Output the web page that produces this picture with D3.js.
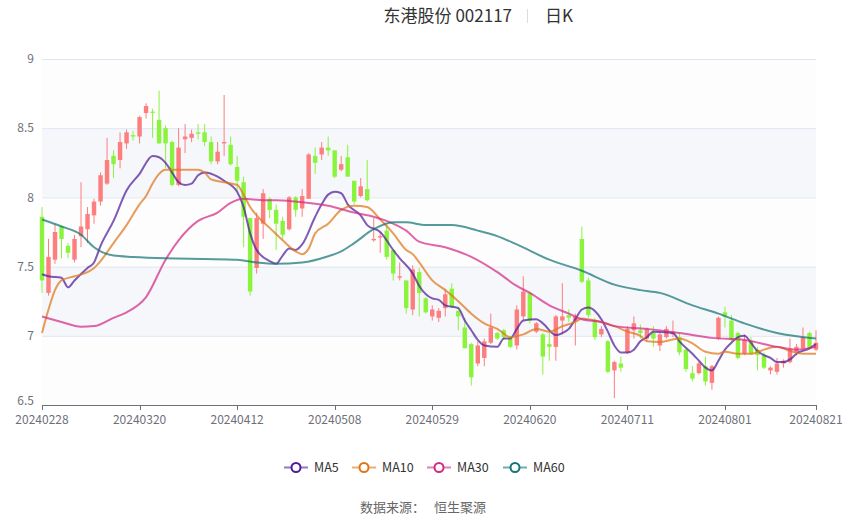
<!DOCTYPE html>
<html>
<head>
<meta charset="utf-8">
<script src="https://cdn.jsdelivr.net/npm/d3@7"></script>
<style>
  html, body { margin: 0; padding: 0; background: #fff; }
  svg text { font-family: "Noto Sans CJK SC", "Noto Sans", sans-serif; }
</style>
</head>
<body>
<svg id="chart" width="850" height="517"></svg>
<script>
const dates = ("20240228 20240229 " +
  "20240301 20240304 20240305 20240306 20240307 20240308 20240311 20240312 20240313 20240314 20240315 " +
  "20240318 20240319 20240320 20240321 20240322 20240325 20240326 20240327 20240328 20240329 " +
  "20240401 20240402 20240403 20240408 20240409 20240410 20240411 20240412 20240415 20240416 20240417 " +
  "20240418 20240419 20240422 20240423 20240424 20240425 20240426 20240429 20240430 " +
  "20240506 20240507 20240508 20240509 20240510 20240513 20240514 20240515 20240516 20240517 " +
  "20240520 20240521 20240522 20240523 20240524 20240527 20240528 20240529 20240530 20240531 " +
  "20240603 20240604 20240605 20240606 20240607 20240611 20240612 20240613 20240614 " +
  "20240617 20240618 20240619 20240620 20240621 20240624 20240625 20240626 20240627 20240628 " +
  "20240701 20240702 20240703 20240704 20240705 20240708 20240709 20240710 20240711 20240712 " +
  "20240715 20240716 20240717 20240718 20240719 20240722 20240723 20240724 20240725 20240726 " +
  "20240729 20240730 20240731 20240801 20240802 20240805 20240806 20240807 20240808 20240809 " +
  "20240812 20240813 20240814 20240815 20240816 20240819 20240820 20240821").split(" ");

const open = [7.86,7.31,7.55,7.79,7.65,7.55,7.72,7.77,7.87,7.97,8.10,8.30,8.27,8.39,8.45,8.44,8.61,8.62,8.56,8.50,
  8.40,8.09,8.42,8.43,8.47,8.47,8.40,8.26,8.39,8.38,8.22,8.11,7.85,7.49,7.81,7.99,7.91,7.83,7.77,8.00,
  7.92,7.99,8.30,8.31,8.36,8.34,8.20,8.29,8.12,8.01,8.06,7.69,7.71,7.76,7.62,7.42,7.40,7.19,7.46,7.27,
  7.14,7.13,7.20,7.34,7.18,7.06,6.94,6.80,6.84,6.95,7.02,7.04,6.98,6.93,7.14,7.31,7.03,7.01,6.94,6.92,
  7.11,7.15,7.11,7.70,7.40,7.11,7.01,6.96,6.75,6.80,6.88,7.04,7.04,6.98,7.02,6.93,6.99,7.01,6.99,6.90,
  6.73,6.73,6.78,6.66,6.98,7.17,7.11,7.02,6.87,6.96,6.90,6.86,6.75,6.74,6.80,6.81,6.88,6.91,7.02,6.90];
const close = [7.40,7.57,7.75,7.70,7.60,7.70,7.79,7.88,7.97,8.16,8.27,8.24,8.40,8.47,8.44,8.58,8.66,8.61,8.39,8.39,
  8.09,8.36,8.44,8.46,8.46,8.40,8.26,8.33,8.40,8.24,8.12,7.86,7.32,7.85,8.03,7.91,7.81,7.73,8.00,7.91,
  8.01,8.31,8.25,8.36,8.34,8.15,8.24,8.15,7.97,8.08,7.98,7.70,7.72,7.57,7.45,7.43,7.20,7.48,7.31,7.17,
  7.19,7.18,7.30,7.21,7.14,6.91,6.70,6.93,6.96,7.06,6.98,6.99,6.92,7.19,7.32,7.11,7.09,6.85,6.92,7.14,
  7.14,7.13,7.14,7.39,7.15,6.99,7.05,6.74,6.81,6.77,7.05,7.09,7.02,7.05,6.98,7.01,7.05,7.03,6.88,6.76,
  6.69,6.80,6.67,6.78,7.13,7.14,6.97,6.84,6.97,6.87,6.86,6.77,6.77,6.80,6.82,6.90,6.92,6.99,6.91,6.95];
const high = [7.93,7.70,7.81,7.80,7.67,7.73,8.11,7.93,7.99,8.18,8.43,8.34,8.47,8.49,8.48,8.59,8.68,8.64,8.77,8.52,
  8.41,8.50,8.53,8.49,8.53,8.53,8.44,8.40,8.74,8.44,8.30,8.15,7.85,7.89,8.06,8.00,7.95,7.86,8.01,8.01,
  8.06,8.32,8.36,8.40,8.44,8.34,8.30,8.38,8.12,8.14,8.27,7.85,7.75,7.80,7.62,7.53,7.40,7.51,7.49,7.28,
  7.22,7.20,7.34,7.38,7.21,7.13,6.95,6.96,6.98,7.16,7.03,7.05,7.00,7.22,7.43,7.32,7.10,7.02,7.04,7.15,
  7.38,7.19,7.16,7.79,7.42,7.13,7.07,6.97,6.82,6.85,7.07,7.14,7.08,7.06,7.07,7.02,7.07,7.11,7.02,6.91,
  6.78,6.81,6.85,6.79,7.14,7.21,7.15,7.03,7.01,6.99,6.92,6.88,6.78,6.84,6.83,6.98,6.94,7.06,7.03,7.04];
const low = [7.31,7.29,7.52,7.56,7.56,7.53,7.64,7.67,7.81,7.94,8.09,8.14,8.21,8.35,8.41,8.39,8.57,8.43,8.39,8.21,
  8.08,8.08,8.32,8.40,8.42,8.37,8.24,8.24,8.30,8.23,8.05,7.64,7.29,7.45,7.70,7.85,7.62,7.70,7.76,7.86,
  7.86,7.99,8.17,8.27,8.30,8.14,8.19,8.15,7.95,8.00,7.97,7.68,7.60,7.55,7.40,7.40,7.16,7.15,7.14,7.16,
  7.11,7.10,7.14,7.20,7.04,6.91,6.64,6.78,6.78,6.94,6.97,6.97,6.91,6.90,7.11,7.09,7.02,6.72,6.82,6.82,
  7.01,7.10,6.93,7.38,7.13,6.97,6.99,6.73,6.55,6.74,6.87,6.98,6.98,6.96,6.92,6.89,6.98,6.99,6.86,6.74,
  6.67,6.72,6.64,6.61,6.97,7.06,6.96,6.83,6.86,6.86,6.75,6.76,6.72,6.72,6.77,6.80,6.86,6.90,6.90,6.89];

// moving averages: [day index, value]
const ma5 = [[0,7.445],[1,7.43],[3,7.42],[4,7.35],[5,7.40],[7,7.49],[8,7.53],[9,7.65],[11,7.83],[13,8.05],
  [15,8.17],[17,8.30],[18,8.29],[19,8.25],[20,8.18],[21,8.11],[22,8.09],[23,8.10],[24,8.16],[25,8.18],
  [27,8.15],[28,8.12],[30,8.04],[31,7.93],[32,7.74],[33,7.62],[35,7.54],[36,7.52],[37,7.58],[38,7.63],
  [39,7.62],[40,7.66],[42,7.86],[43,7.95],[44,8.02],[45,8.04],[46,8.03],[47,7.95],[49,7.87],[50,7.80],
  [52,7.75],[54,7.62],[55,7.56],[57,7.45],[58,7.36],[60,7.27],[61,7.26],[62,7.22],[64,7.20],[65,7.11],
  [66,7.04],[67,6.97],[68,6.93],[70,6.92],[71,6.98],[72,6.98],[73,7.05],[74,7.11],[76,7.12],[77,7.09],
  [79,7.005],[80,7.02],[81,7.05],[82,7.12],[83,7.19],[84,7.205],[85,7.18],[86,7.12],[87,7.03],[88,6.93],
  [89,6.88],[90,6.88],[91,6.90],[92,6.96],[93,6.99],[94,7.03],[96,7.025],[97,7.02],[98,6.96],[100,6.87],
  [101,6.82],[102,6.77],[103,6.75],[104,6.82],[105,6.90],[106,6.95],[107,6.99],[108,7.00],[109,6.95],
  [110,6.89],[111,6.86],[112,6.84],[113,6.81],[114,6.81],[115,6.83],[116,6.87],[118,6.91],[119,6.94]];
const ma10 = [[0,7.02],[1,7.19],[2,7.33],[3,7.40],[5,7.43],[7,7.46],[8,7.49],[9,7.54],[11,7.67],[13,7.80],
  [15,7.95],[16,8.01],[17,8.10],[18,8.17],[19,8.20],[22,8.20],[24,8.20],[25,8.18],[26,8.13],[28,8.11],
  [30,8.09],[31,8.02],[32,7.93],[33,7.87],[35,7.78],[37,7.69],[39,7.61],[40,7.59],[41,7.63],[42,7.74],
  [44,7.81],[46,7.91],[48,7.94],[50,7.93],[52,7.84],[54,7.74],[56,7.62],[57,7.59],[58,7.53],[60,7.40],
  [62,7.33],[64,7.25],[66,7.16],[68,7.09],[70,7.05],[72,6.99],[74,7.01],[76,7.05],[78,7.03],[80,7.07],
  [82,7.10],[83,7.125],[85,7.11],[88,7.07],[90,7.03],[92,7.00],[93,6.96],[95,6.955],[98,6.98],[100,6.945],
  [102,6.885],[104,6.87],[105,6.885],[107,6.87],[109,6.87],[111,6.90],[113,6.92],[115,6.89],[117,6.87],[119,6.87]];
const ma30 = [[0,7.14],[3,7.10],[6,7.065],[8,7.07],[11,7.13],[13,7.17],[16,7.28],[19,7.55],[21,7.69],[24,7.83],
  [27,7.89],[29,7.96],[31,7.99],[34,7.98],[36,7.98],[39,7.97],[44,7.94],[48,7.89],[51,7.86],[54,7.81],
  [56,7.76],[58,7.68],[62,7.64],[66,7.57],[70,7.46],[73,7.36],[75,7.31],[78,7.22],[81,7.16],[83,7.12],
  [86,7.10],[88,7.07],[93,7.05],[98,7.02],[103,6.985],[108,6.97],[113,6.92],[116,6.90],[119,6.92]];
const ma60 = [[0,7.84],[3,7.79],[6,7.73],[8,7.64],[11,7.58],[14,7.57],[19,7.56],[25,7.555],[30,7.55],[33,7.53],
  [36,7.52],[40,7.53],[44,7.575],[46,7.61],[48,7.67],[51,7.77],[54,7.82],[56,7.82],[59,7.80],[63,7.80],
  [67,7.76],[70,7.72],[73,7.66],[78,7.55],[83,7.47],[88,7.37],[92,7.33],[95,7.31],[100,7.22],[104,7.16],
  [108,7.09],[113,7.02],[119,6.98]];

const yTicks = [6.5, 7, 7.5, 8, 8.5, 9];
const xTickLabels = ["20240228","20240320","20240412","20240508","20240529","20240620","20240711","20240801","20240821"];
const maNames = ["MA5", "MA10", "MA30", "MA60"];
const maColors = ["#4f1c99", "#e07518", "#d22a86", "#157575"];

const svg = d3.select("#chart");
const plotLeft = 42, plotRight = 816, plotTop = 59, plotBottom = 405;

const x = d3.scalePoint().domain(dates).range([plotLeft, plotRight]);
const y = d3.scaleLinear().domain([6.5, 9]).range([plotBottom, plotTop]);
const xi = (i) => x(dates[i]);

// alternating bands
const bands = d3.pairs(yTicks);
svg.append("g")
  .selectAll("rect")
  .data(bands)
  .join("rect")
  .attr("x", plotLeft)
  .attr("width", plotRight - plotLeft)
  .attr("y", (d) => y(d[1]))
  .attr("height", (d) => y(d[0]) - y(d[1]))
  .attr("fill", (d, i) => (i % 2 ? "#f5f7fb" : "#fdfdfd"));

svg.append("g")
  .selectAll("line")
  .data(yTicks.slice(1))
  .join("line")
  .attr("x1", plotLeft)
  .attr("x2", plotRight)
  .attr("y1", (d) => y(d) + 0.5)
  .attr("y2", (d) => y(d) + 0.5)
  .attr("stroke", "#e0e6f1");

// the bottom label is nudged up so it clears the first date label
svg.append("g")
  .selectAll("text")
  .data(yTicks)
  .join("text")
  .attr("x", 34)
  .attr("y", (d) => y(d) - (d === 6.5 ? 4 : 0))
  .attr("dy", "0.35em")
  .attr("text-anchor", "end")
  .attr("font-size", 12)
  .attr("fill", "#6e7079")
  .text((d) => d);

// x axis
const xAxis = svg.append("g");
xAxis.append("line")
  .attr("x1", plotLeft)
  .attr("x2", plotRight)
  .attr("y1", plotBottom + 0.5)
  .attr("y2", plotBottom + 0.5)
  .attr("stroke", "#6e7079");
xAxis.selectAll("line.tick")
  .data(xTickLabels)
  .join("line")
  .attr("class", "tick")
  .attr("x1", (d) => Math.round(x(d)) + 0.5)
  .attr("x2", (d) => Math.round(x(d)) + 0.5)
  .attr("y1", plotBottom)
  .attr("y2", plotBottom + 5)
  .attr("stroke", "#6e7079");
xAxis.selectAll("text")
  .data(xTickLabels)
  .join("text")
  .attr("x", (d) => x(d))
  .attr("y", plotBottom + 19)
  .attr("text-anchor", "middle")
  .attr("font-size", 12)
  .attr("fill", "#6e7079")
  .text((d) => d);

// candles
const bodyW = x.step() * 0.68;
const candles = svg.append("g")
  .selectAll("g")
  .data(dates.map((d, i) => i))
  .join("g")
  .attr("fill", (i) => (close[i] >= open[i] ? "#fd7e7e" : "#8af43c"))
  .attr("stroke", (i) => (close[i] >= open[i] ? "#fd7e7e" : "#8af43c"));

candles.append("line")
  .attr("x1", (i) => xi(i))
  .attr("x2", (i) => xi(i))
  .attr("y1", (i) => y(high[i]))
  .attr("y2", (i) => y(low[i]))
  .attr("stroke-width", 1);

candles.append("rect")
  .attr("x", (i) => xi(i) - bodyW / 2)
  .attr("width", bodyW)
  .attr("y", (i) => y(Math.max(open[i], close[i])))
  .attr("height", (i) => Math.max(1, Math.abs(y(open[i]) - y(close[i]))))
  .attr("stroke", "none");

// MA lines
const line = d3.line()
  .curve(d3.curveMonotoneX)
  .x((d) => xi(d[0]))
  .y((d) => y(d[1]));

svg.append("g")
  .selectAll("path")
  .data([ma5, ma10, ma30, ma60])
  .join("path")
  .attr("d", line)
  .attr("fill", "none")
  .attr("stroke", (d, i) => maColors[i])
  .attr("stroke-opacity", 0.72)
  .attr("stroke-width", 2);

// title
const title = svg.append("g").attr("font-size", 17).attr("fill", "#333");
title.append("text").attr("x", 512).attr("y", 22).attr("text-anchor", "end").text("东港股份 002117");
title.append("line")
  .attr("x1", 527.5).attr("x2", 527.5).attr("y1", 9).attr("y2", 23)
  .attr("stroke", "#ddd");
title.append("text").attr("x", 545).attr("y", 22).text("日K");

// legend
const legendX = [296, 364, 439, 515];
const legend = svg.append("g")
  .selectAll("g")
  .data(maNames)
  .join("g")
  .attr("transform", (d, i) => `translate(${legendX[i]},467.5)`);
legend.append("line")
  .attr("x1", -12).attr("x2", 12)
  .attr("stroke", (d, i) => maColors[i])
  .attr("stroke-opacity", 0.6)
  .attr("stroke-width", 2);
legend.append("circle")
  .attr("r", 4.5)
  .attr("fill", "#fff")
  .attr("stroke", (d, i) => maColors[i])
  .attr("stroke-width", 2);
legend.append("text")
  .attr("x", 18)
  .attr("dy", "0.35em")
  .attr("font-size", 12.5)
  .attr("fill", "#333")
  .text((d) => d);

svg.append("text")
  .attr("x", 360).attr("y", 512)
  .attr("font-size", 13).attr("fill", "#666")
  .text("数据来源：");
svg.append("text")
  .attr("x", 434).attr("y", 512)
  .attr("font-size", 13).attr("fill", "#666")
  .text("恒生聚源");
</script>
</body>
</html>
